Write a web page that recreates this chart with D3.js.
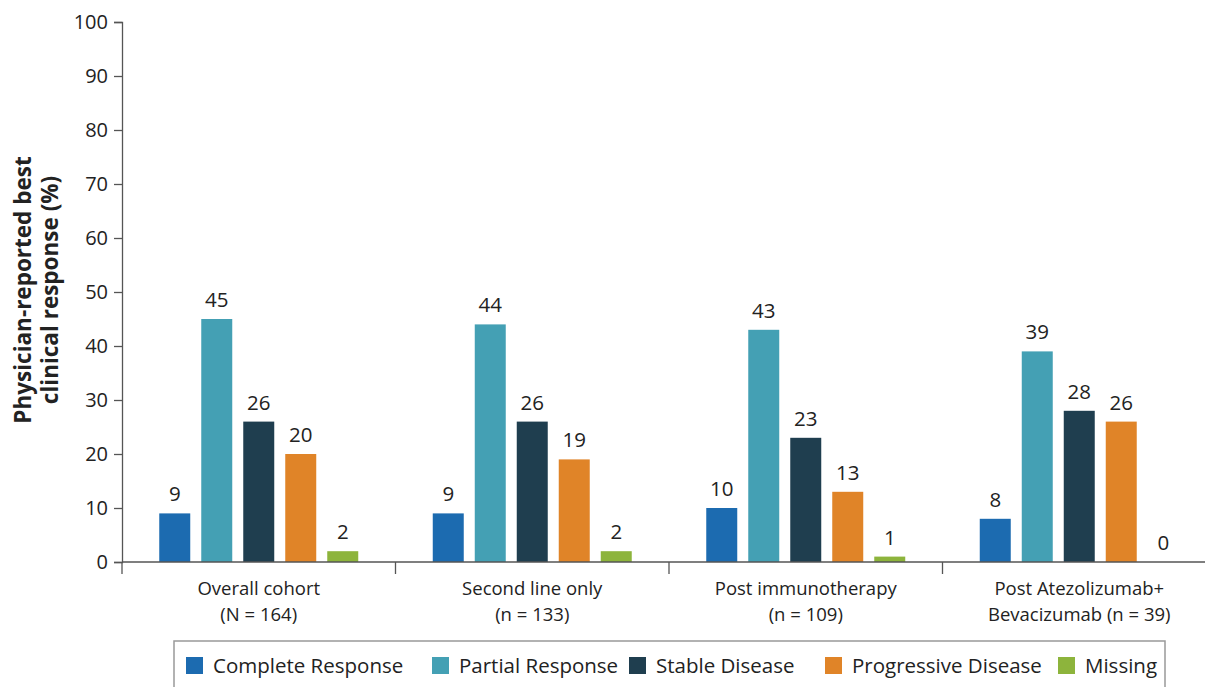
<!DOCTYPE html>
<html>
<head>
<meta charset="utf-8">
<script src="https://cdn.jsdelivr.net/npm/d3@7"></script>
<style>
  body { margin: 0; background: #fff; }
  svg { font-family: "Open Sans", "Noto Sans", sans-serif; }
</style>
</head>
<body>
<svg id="chart" width="1205" height="687"></svg>
<script>
// data
var groups = ["Overall cohort|(N = 164)", "Second line only|(n = 133)", "Post immunotherapy|(n = 109)", "Post Atezolizumab+|Bevacizumab (n = 39)"];
var series = ["Complete Response", "Partial Response", "Stable Disease", "Progressive Disease", "Missing"];
var colors = ["#1c6bb0", "#44a0b4", "#1f3e4f", "#e08428", "#8db43c"];
var completeR = [9, 9, 10, 8];
var partialR = [45, 44, 43, 39];
var stableD = [26, 26, 23, 28];
var progressiveD = [20, 19, 13, 26];
var missing = [2, 2, 1, 0];
var yTicks = [0, 10, 20, 30, 40, 50, 60, 70, 80, 90, 100];

var values = [completeR, partialR, stableD, progressiveD, missing];

var svg = d3.select("#chart");
var x0 = 122, x1 = 1216, yBottom = 562, yTop = 22;

var x = d3.scaleBand().domain(groups).range([x0, x1]);
var xs = d3.scaleBand().domain(series).range([0, x.bandwidth()])
  .paddingInner(0.262).paddingOuter(0.887);
var y = d3.scaleLinear().domain([0, 100]).range([yBottom, yTop]);

// y axis
var yAxis = svg.append("g")
  .attr("transform", "translate(" + x0 + ",0)")
  .call(d3.axisLeft(y).tickValues(yTicks).tickSize(8).tickPadding(6));
yAxis.select(".domain").attr("stroke", "#555").attr("stroke-width", 1.3);
yAxis.selectAll(".tick line").attr("stroke", "#555").attr("stroke-width", 1.3);
yAxis.selectAll(".tick text").attr("font-size", 20).attr("fill", "#222")
  .attr("font-family", "Open Sans, sans-serif");

// bars
groups.forEach(function(g, gi) {
  series.forEach(function(s, si) {
    var v = values[si][gi];
    svg.append("rect")
      .attr("x", x(g) + xs(s))
      .attr("y", y(v))
      .attr("width", xs.bandwidth())
      .attr("height", yBottom - y(v))
      .attr("fill", colors[si]);
    svg.append("text")
      .attr("x", x(g) + xs(s) + xs.bandwidth() / 2)
      .attr("y", y(v) - 12)
      .attr("text-anchor", "middle")
      .attr("font-size", 20.5)
      .attr("fill", "#222")
      .text(v);
  });
});

// x axis line and group separators
svg.append("line")
  .attr("x1", x0).attr("x2", 1205)
  .attr("y1", yBottom).attr("y2", yBottom)
  .attr("stroke", "#555").attr("stroke-width", 1.3);
groups.forEach(function(g) {
  svg.append("line")
    .attr("x1", x(g)).attr("x2", x(g))
    .attr("y1", yBottom).attr("y2", yBottom + 12)
    .attr("stroke", "#555").attr("stroke-width", 1.3);
  var lines = g.split("|");
  var t = svg.append("text")
    .attr("text-anchor", "middle")
    .attr("font-size", 18.5)
    .attr("fill", "#222");
  lines.forEach(function(l, li) {
    t.append("tspan")
      .attr("x", x(g) + x.bandwidth() / 2)
      .attr("y", 595 + li * 25.5)
      .text(l);
  });
});

// y axis title
var title = svg.append("text")
  .attr("transform", "translate(31,290) rotate(-90)")
  .attr("text-anchor", "middle")
  .attr("font-size", 22.5)
  .attr("font-weight", "bold")
  .attr("fill", "#222");
title.append("tspan").attr("x", 0).attr("y", 0).text("Physician-reported best");
title.append("tspan").attr("x", 0).attr("y", 27).text("clinical response (%)");

// legend
svg.append("rect")
  .attr("x", 174).attr("y", 641)
  .attr("width", 991).attr("height", 60)
  .attr("fill", "none").attr("stroke", "#999").attr("stroke-width", 1.5);
var legendX = [186, 432, 629, 825, 1058];
series.forEach(function(s, si) {
  svg.append("rect")
    .attr("x", legendX[si]).attr("y", 657)
    .attr("width", 17).attr("height", 17)
    .attr("fill", colors[si]);
  svg.append("text")
    .attr("x", legendX[si] + 27).attr("y", 673)
    .attr("font-size", 20.5)
    .attr("fill", "#222")
    .text(s);
});
</script>
</body>
</html>
